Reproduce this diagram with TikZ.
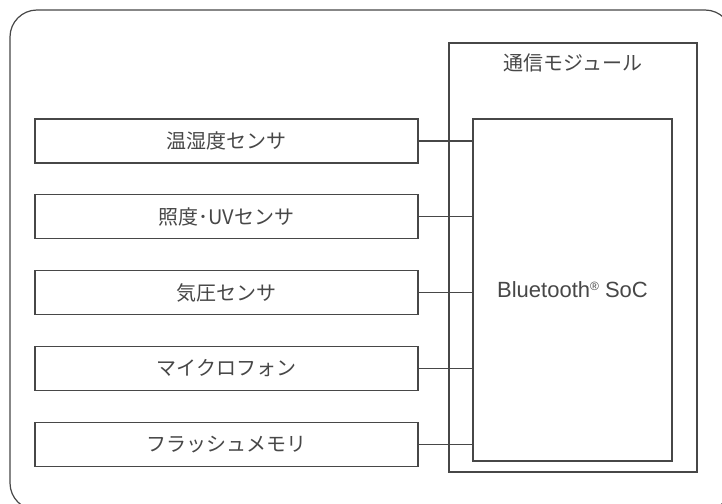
\documentclass[tikz,border=0pt]{standalone}
\usepackage{fontspec}
\setmainfont{Liberation Sans}
\newfontfamily\jpfont{Noto Sans CJK JP}
\usetikzlibrary{positioning}
\colorlet{boxline}{black!72}
\newcommand{\regmark}{{\fontsize{12}{12}\selectfont\raisebox{7pt}{®}}}

\begin{document}
\begin{tikzpicture}[x=1pt,y=-1pt,line width=1.2pt,color=boxline,
  every node/.style={inner sep=0pt},
  jp/.style={font=\jpfont\fontsize{20}{22}\selectfont},
  sensor/.style={jp,draw,minimum width=383pt,minimum height=44pt},
  modbox/.style={draw,minimum width=248pt,minimum height=429pt},
  socbox/.style={draw,minimum width=199pt,minimum height=342pt,font=\fontsize{22}{24}\selectfont}]

  \useasboundingbox (0,0) rectangle (722,503);

  % frame
  \draw[rounded corners=27pt] (10,10) rectangle (732,510);

  % module
  \node[modbox] (mod) at (573,257.5) {};
  \node[jp] (modlabel) at (573,63) {通信モジュール};
  \node[socbox] (soc) at (572.5,290) {Bluetooth\regmark\ SoC};

  % sensors
  \node[sensor] (s1) at (226.5,141) {温湿度センサ};
  \node[sensor,below=30.6pt of s1] (s2) {照度･UVセンサ};
  \node[sensor,below=30.6pt of s2] (s3) {気圧センサ};
  \node[sensor,below=30.6pt of s3] (s4) {マイクロフォン};
  \node[sensor,below=30.6pt of s4] (s5) {フラッシュメモリ};

  % links
  \foreach \s in {s1,s2,s3,s4,s5}
    \draw (\s.east) -- (\s.east -| soc.west);

\end{tikzpicture}
\end{document}
